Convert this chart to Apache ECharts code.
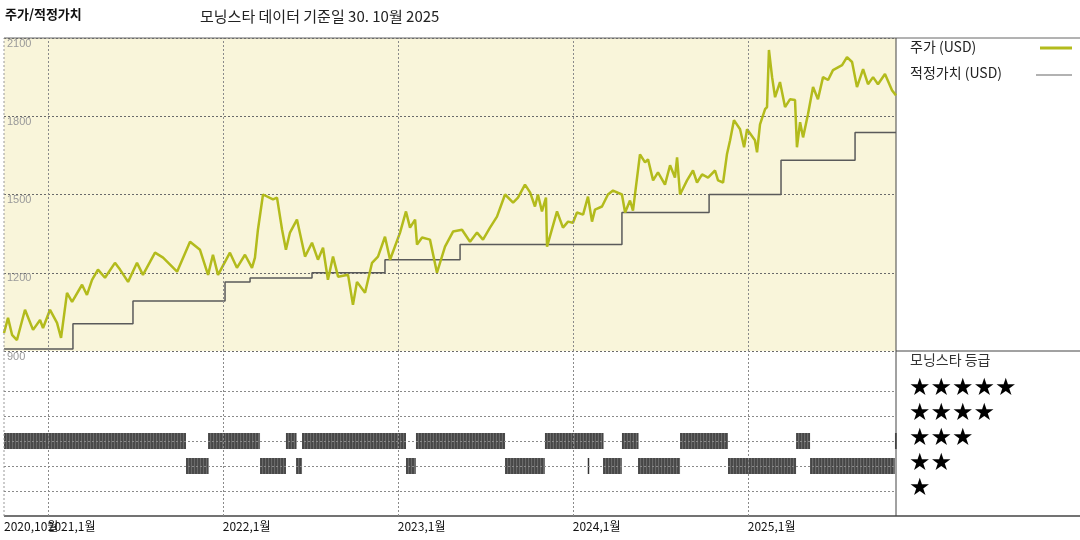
<!DOCTYPE html>
<html><head><meta charset="utf-8">
<script src="https://cdn.jsdelivr.net/npm/echarts@6/dist/echarts.min.js"></script>
<style>html,body{margin:0;padding:0;background:#fff}#c{width:1080px;height:540px}</style>
</head><body><div id="c"></div>
<script>
// price: decimal year, USD
const priceT = [2020.750,2020.773,2020.796,2020.824,2020.870,2020.916,2020.956,2020.973,2021.013,2021.053,2021.076,2021.110,2021.139,2021.196,2021.224,2021.253,2021.287,2021.327,2021.384,2021.413,2021.459,2021.510,2021.544,2021.613,2021.659,2021.739,2021.813,2021.870,2021.916,2021.944,2021.973,2022.041,2022.081,2022.127,2022.167,2022.184,2022.201,2022.230,2022.287,2022.310,2022.339,2022.361,2022.384,2022.424,2022.470,2022.510,2022.544,2022.573,2022.601,2022.630,2022.659,2022.716,2022.744,2022.767,2022.813,2022.853,2022.887,2022.927,2022.956,2023.013,2023.047,2023.070,2023.099,2023.110,2023.139,2023.184,2023.224,2023.270,2023.316,2023.367,2023.413,2023.453,2023.487,2023.527,2023.567,2023.613,2023.659,2023.687,2023.727,2023.756,2023.784,2023.801,2023.824,2023.847,2023.853,2023.910,2023.944,2023.973,2024.001,2024.024,2024.059,2024.087,2024.110,2024.127,2024.167,2024.201,2024.230,2024.281,2024.299,2024.327,2024.344,2024.384,2024.413,2024.430,2024.459,2024.487,2024.527,2024.556,2024.584,2024.596,2024.613,2024.653,2024.687,2024.710,2024.739,2024.773,2024.813,2024.830,2024.859,2024.881,2024.899,2024.921,2024.956,2024.979,2024.996,2025.041,2025.053,2025.070,2025.099,2025.110,2025.121,2025.139,2025.156,2025.184,2025.213,2025.241,2025.270,2025.281,2025.299,2025.316,2025.344,2025.373,2025.401,2025.430,2025.459,2025.487,2025.539,2025.567,2025.596,2025.624,2025.659,2025.687,2025.716,2025.744,2025.784,2025.824,2025.847];
const priceV = [969,1027,962,942,1058,981,1019,988,1058,1008,950,1123,1088,1154,1115,1173,1212,1181,1238,1212,1165,1238,1192,1277,1258,1204,1319,1288,1192,1269,1192,1277,1219,1269,1219,1258,1365,1500,1481,1488,1365,1288,1354,1404,1262,1315,1250,1296,1173,1262,1185,1192,1077,1165,1123,1238,1262,1338,1250,1354,1435,1373,1404,1308,1335,1327,1200,1300,1358,1365,1319,1354,1327,1373,1415,1500,1469,1488,1538,1508,1454,1500,1435,1488,1300,1435,1373,1396,1392,1431,1423,1492,1396,1442,1454,1500,1515,1500,1431,1477,1438,1654,1623,1635,1554,1585,1538,1612,1565,1642,1500,1554,1592,1546,1577,1565,1592,1554,1546,1654,1708,1785,1750,1681,1750,1708,1662,1769,1827,1835,2054,1950,1873,1931,1835,1865,1862,1681,1777,1719,1808,1912,1865,1950,1939,1977,1996,2027,2008,1912,1981,1923,1950,1923,1962,1900,1880];
// fair value steps: start time of each level and value
const fairT = [2020.750,2021.144,2021.487,2022.013,2022.156,2022.510,2022.927,2023.356,2024.281,2024.779,2025.190,2025.613,2025.847];
const fairV = [908,1004,1092,1165,1180,1200,1250,1308,1431,1500,1631,1738,1738];
// star rating periods
const ratingStart = [2020.750,2021.790,2021.916,2022.213,2022.361,2022.419,2022.453,2023.047,2023.104,2023.613,2023.841,2024.085,2024.173,2024.281,2024.373,2024.613,2024.887,2025.276,2025.356,2025.841];
const ratingEnd   = [2021.790,2021.916,2022.213,2022.361,2022.419,2022.453,2023.047,2023.104,2023.613,2023.841,2024.173,2024.090,2024.281,2024.373,2024.613,2024.887,2025.276,2025.356,2025.841,2025.847];
const ratingStars = [3,2,3,2,3,2,3,2,3,2,3,2,2,3,2,3,2,3,2,3];
const yearTicks = [2021,2022,2023,2024,2025];
const startTickLabel = '2020,10월';

const X0 = 2020.75, X1 = 2025.847;
const chart = echarts.init(document.getElementById('c'));
const vLines = yearTicks.map(v => ({xAxis: v}));
const hLines = [1,2,3,4,5].map(v => ({yAxis: v}));
const ml = (data) => ({silent:true, symbol:'none', label:{show:false},
  lineStyle:{type:[2,2], color:'#8a8a8a', width:1}, data});

const legendItems = [
  {type:'text', left:5, top:8, style:{text:'주가/적정가치', font:'bold 13px "Noto Sans CJK KR"', fill:'#111'}},
  {type:'text', left:200, top:9, style:{text:'모닝스타 데이터 기준일 30. 10월 2025', font:'15px "Noto Sans CJK KR"', fill:'#222'}},
  {type:'line', shape:{x1:4,y1:38,x2:1080,y2:38}, style:{stroke:'#666',lineWidth:1}},
  {type:'line', shape:{x1:896,y1:351,x2:1080,y2:351}, style:{stroke:'#444',lineWidth:1}},
  {type:'line', shape:{x1:4,y1:516,x2:1080,y2:516}, style:{stroke:'#444',lineWidth:1.5}},
  {type:'line', shape:{x1:896,y1:38,x2:896,y2:516}, style:{stroke:'#444',lineWidth:1}},
  {type:'text', left:910, top:40, style:{text:'주가 (USD)', font:'14px "Noto Sans CJK KR"', fill:'#222'}},
  {type:'line', shape:{x1:1040,y1:48,x2:1072,y2:48}, style:{stroke:'#b3bb1c',lineWidth:3}},
  {type:'text', left:910, top:66, style:{text:'적정가치 (USD)', font:'14px "Noto Sans CJK KR"', fill:'#222'}},
  {type:'line', shape:{x1:1036,y1:75,x2:1072,y2:75}, style:{stroke:'#666',lineWidth:1.2}},
  {type:'text', left:910, top:353, style:{text:'모닝스타 등급', font:'14px "Noto Sans CJK KR"', fill:'#333'}},
];
['★★★★★','★★★★','★★★','★★','★'].forEach((s,i)=>{
  legendItems.push({type:'text', left:909, top:377+i*25, style:{text:s, font:'24px "DejaVu Sans"', fill:'#000'}});
});

const xl = {align:'left', margin:4, color:'#111', fontSize:12, fontFamily:'Noto Sans CJK KR', hideOverlap:false, interval:0};
chart.setOption({
  animation:false,
  graphic: legendItems,
  grid:[
    {left:4, width:892, top:38, height:313, show:true, backgroundColor:'#f9f5da', borderWidth:0},
    {left:4, width:892, top:351, height:165, show:false},
    {left:4, width:892, top:351, height:165, show:false}
  ],
  xAxis:[
    {type:'value', gridIndex:0, min:X0, max:X1, axisLine:{show:false}, axisTick:{show:false}, axisLabel:{show:false}, splitLine:{show:false}},
    {type:'value', gridIndex:1, min:X0, max:X1, axisLine:{show:false}, axisTick:{show:false}, splitLine:{show:false},
      axisLabel:Object.assign({customValues:yearTicks, formatter:v => Math.round(v)+',1월'}, xl)},
    {type:'value', gridIndex:2, min:X0, max:X1, axisLine:{show:false}, axisTick:{show:false}, splitLine:{show:false},
      axisLabel:Object.assign({customValues:[X0], formatter:() => startTickLabel}, xl)}
  ],
  yAxis:[
    {type:'value', gridIndex:0, min:900, max:2100, interval:300, axisLine:{show:false}, axisTick:{show:false},
      axisLabel:{inside:true, verticalAlign:'top', margin:3, color:'#9a9a9a', fontSize:11, showMinLabel:true, formatter:v=>String(v)},
      splitLine:{lineStyle:{type:[2,2], color:'#6a6a6a'}}},
    {type:'value', gridIndex:1, min:0, max:6.6, axisLine:{show:false}, axisTick:{show:false}, axisLabel:{show:false}, splitLine:{show:false}},
    {type:'value', gridIndex:2, min:0, max:6.6, show:false}
  ],
  series:[
    {type:'line', xAxisIndex:0, yAxisIndex:0, step:'end', symbol:'none', data: fairT.map((t,i)=>[t,fairV[i]]),
      lineStyle:{color:'#5a5a5a', width:1.5}, markLine: ml(vLines), z:2},
    {type:'line', xAxisIndex:0, yAxisIndex:0, symbol:'none', data: priceT.map((t,i)=>[t,priceV[i]]),
      lineStyle:{color:'#b3bb1c', width:2.5}, z:3},
    {type:'line', xAxisIndex:0, yAxisIndex:0, symbol:'none', data:[[X0,900],[X0,2100]], lineStyle:{color:'#999',type:[2,2],width:1}},
    {type:'custom', xAxisIndex:1, yAxisIndex:1,
      data: ratingStart.map((s,i)=>[s, ratingEnd[i], ratingStars[i]]),
      renderItem:(params, api)=>{
        const a = api.coord([api.value(0), api.value(2)]);
        const b = api.coord([api.value(1), api.value(2)]);
        const w = Math.max(b[0]-a[0], 1.5);
        const children = [{type:'rect', shape:{x:a[0], y:a[1]-8, width:w, height:16}, style:{fill:'#6a6a6a'}}];
        for (let x = a[0]+1; x < a[0]+w; x += 3) {
          children.push({type:'line', shape:{x1:x,y1:a[1]-8,x2:x,y2:a[1]+8}, style:{stroke:'#2a2a2a', lineWidth:1}});
        }
        return {type:'group', children};
      },
      markLine: ml(vLines.concat(hLines))
    },
    {type:'line', xAxisIndex:1, yAxisIndex:1, symbol:'none', data:[[X0,0],[X0,6.6]], lineStyle:{color:'#999',type:[2,2],width:1}}
  ]
});
</script></body></html>
